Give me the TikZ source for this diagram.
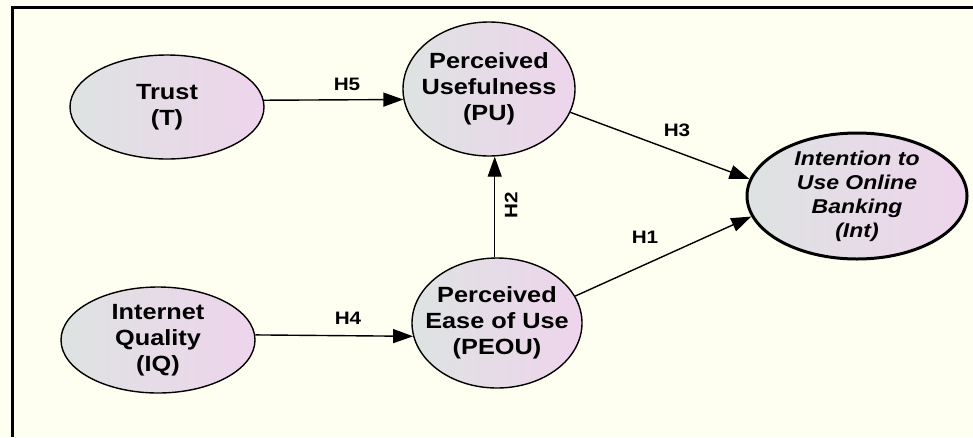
\documentclass[tikz,border=0pt]{standalone}
\usepackage{fontspec}
\setmainfont{Liberation Sans}[FakeStretch=1.15]
\usetikzlibrary{arrows.meta,shapes.geometric}
\definecolor{bgivory}{RGB}{254,255,240}
\definecolor{ellgray}{RGB}{222,227,226}
\definecolor{ellpink}{RGB}{238,212,236}
\tikzset{
  construct/.style={ellipse, draw=black, line width=1.4pt, left color=ellgray, right color=ellpink,
    inner sep=0pt},
  ctext/.style={inner sep=0pt, align=center, font=\fontsize{22}{26}\selectfont\bfseries},
  arr/.style={line width=1.4pt, -{Triangle[length=20pt,width=14pt]}},
  hlab/.style={font=\fontsize{18}{20}\selectfont\bfseries, inner sep=0pt}
}
\begin{document}
\begin{tikzpicture}[x=1pt,y=-1pt]
\useasboundingbox (0,0) rectangle (973,437);
\fill[bgivory] (0,0) rectangle (973,437);
\draw[line width=3pt] (973,7) -- (12,7) -- (12,437);

\node[construct, minimum width=194pt, minimum height=104pt] (trust) at (167,107) {};
\node[ctext] (trust-t) at (trust) {Trust\\(T)};
\node[construct, minimum width=194pt, minimum height=106pt] (iq) at (158,340) {};
\node[ctext] (iq-t) at (iq) {Internet\\Quality\\(IQ)};
\node[construct, minimum width=172pt, minimum height=134pt] (pu) at (489,89) {};
\node[ctext] (pu-t) at (pu) {Perceived\\Usefulness\\(PU)};
\node[construct, minimum width=170pt, minimum height=130pt] (peou) at (497,323) {};
\node[ctext] (peou-t) at (peou) {Perceived\\Ease of Use\\(PEOU)};
\node[construct, line width=3pt, minimum width=220pt, minimum height=126pt] (int) at (857,196) {};
\node[ctext, font=\fontsize{20}{24}\selectfont\bfseries\itshape] (int-t) at (int) {Intention to\\Use Online\\Banking\\(Int)};

\draw[arr] (trust.4) -- (pu.187);
\draw[arr] (iq.3) -- (peou.189);
\draw[arr] (peou.92) -- (pu.south -| peou.92);
\draw[arr] (pu.-16) -- (int.171);
\draw[arr] (peou.19) -- (int.191);

\node[hlab] (h5) at (347,84) {H5};
\node[hlab] (h4) at (348,318) {H4};
\node[hlab, rotate=90] (h2) at (511,205) {H2};
\node[hlab] (h3) at (677,130) {H3};
\node[hlab] (h1) at (645,237) {H1};
\end{tikzpicture}
\end{document}
